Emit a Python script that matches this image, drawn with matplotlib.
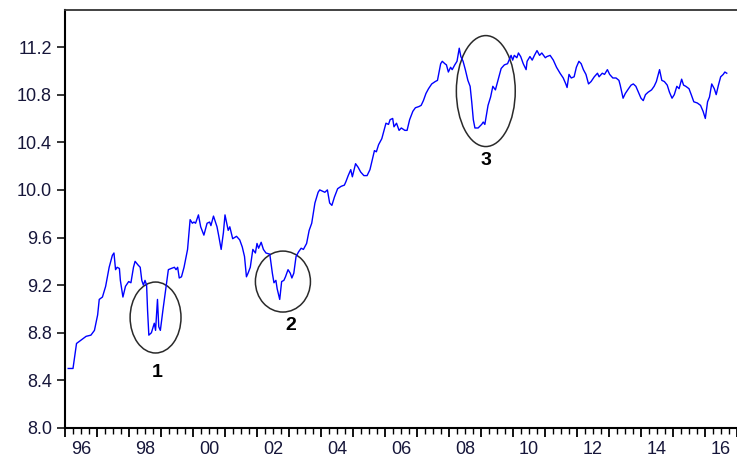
import matplotlib
matplotlib.use("Agg")
import matplotlib.pyplot as plt
from matplotlib.patches import Ellipse
import numpy as np

# Series: decimal year, log level
t_years = [
    1996.10, 1996.25, 1996.36, 1996.51, 1996.66, 1996.81, 1996.92, 1997.02, 1997.07, 1997.17,
    1997.27, 1997.38, 1997.48, 1997.53, 1997.58, 1997.63, 1997.70, 1997.73, 1997.81, 1997.89,
    1997.99, 1998.06, 1998.14, 1998.19, 1998.28, 1998.35, 1998.40, 1998.45, 1998.50, 1998.55,
    1998.58, 1998.62, 1998.70, 1998.79, 1998.83, 1998.89, 1998.93, 1998.98, 1999.06, 1999.16,
    1999.23, 1999.32, 1999.42, 1999.47, 1999.52, 1999.57, 1999.64, 1999.72, 1999.83, 1999.91,
    1999.98, 2000.03, 2000.08, 2000.17, 2000.24, 2000.34, 2000.44, 2000.52, 2000.56, 2000.64,
    2000.75, 2000.80, 2000.88, 2000.95, 2001.00, 2001.10, 2001.15, 2001.24, 2001.36, 2001.46,
    2001.54, 2001.61, 2001.67, 2001.72, 2001.79, 2001.87, 2001.95, 2002.00, 2002.05, 2002.13,
    2002.20, 2002.28, 2002.40, 2002.48, 2002.53, 2002.59, 2002.63, 2002.71, 2002.77, 2002.84,
    2002.89, 2002.97, 2003.04, 2003.09, 2003.15, 2003.22, 2003.30, 2003.38, 2003.45, 2003.55,
    2003.63, 2003.71, 2003.81, 2003.91, 2003.96, 2004.12, 2004.20, 2004.27, 2004.34, 2004.42,
    2004.52, 2004.63, 2004.73, 2004.78, 2004.85, 2004.93, 2004.98, 2005.08, 2005.16, 2005.24,
    2005.34, 2005.44, 2005.53, 2005.60, 2005.67, 2005.73, 2005.80, 2005.90, 2005.97, 2006.03,
    2006.11, 2006.16, 2006.24, 2006.28, 2006.36, 2006.44, 2006.51, 2006.62, 2006.69, 2006.77,
    2006.87, 2006.95, 2007.06, 2007.13, 2007.20, 2007.28, 2007.36, 2007.46, 2007.57, 2007.64,
    2007.69, 2007.74, 2007.79, 2007.87, 2007.92, 2007.98, 2008.05, 2008.10, 2008.18, 2008.25,
    2008.32, 2008.37, 2008.44, 2008.51, 2008.59, 2008.66, 2008.71, 2008.76, 2008.81, 2008.91,
    2009.02, 2009.07, 2009.12, 2009.17, 2009.22, 2009.30, 2009.37, 2009.45, 2009.53, 2009.63,
    2009.73, 2009.83, 2009.94, 2009.99, 2010.04, 2010.12, 2010.17, 2010.24, 2010.32, 2010.41,
    2010.44, 2010.53, 2010.60, 2010.67, 2010.75, 2010.83, 2010.90, 2011.01, 2011.06, 2011.16,
    2011.26, 2011.36, 2011.47, 2011.57, 2011.65, 2011.69, 2011.75, 2011.82, 2011.91, 2011.98,
    2012.06, 2012.13, 2012.20, 2012.28, 2012.36, 2012.44, 2012.54, 2012.64, 2012.69, 2012.79,
    2012.86, 2012.95, 2013.02, 2013.12, 2013.22, 2013.31, 2013.35, 2013.44, 2013.51, 2013.61,
    2013.69, 2013.76, 2013.84, 2013.92, 2014.00, 2014.07, 2014.14, 2014.22, 2014.33, 2014.41,
    2014.48, 2014.58, 2014.65, 2014.73, 2014.82, 2014.89, 2014.97, 2015.04, 2015.12, 2015.19,
    2015.27, 2015.33, 2015.40, 2015.50, 2015.57, 2015.65, 2015.76, 2015.86, 2015.94, 2016.01,
    2016.08, 2016.14, 2016.21, 2016.29, 2016.35, 2016.42, 2016.49, 2016.57, 2016.62, 2016.68,
]
level = [
    8.50, 8.50, 8.71, 8.74, 8.77, 8.78, 8.82, 8.95, 9.08, 9.10,
    9.19, 9.35, 9.45, 9.47, 9.33, 9.35, 9.34, 9.24, 9.10, 9.19,
    9.23, 9.22, 9.35, 9.40, 9.37, 9.35, 9.24, 9.20, 9.24, 9.20,
    8.99, 8.78, 8.80, 8.88, 8.82, 9.08, 8.85, 8.82, 8.99, 9.19,
    9.33, 9.34, 9.35, 9.33, 9.35, 9.26, 9.27, 9.35, 9.50, 9.75,
    9.72, 9.73, 9.72, 9.79, 9.69, 9.62, 9.72, 9.73, 9.70, 9.78,
    9.69, 9.62, 9.50, 9.64, 9.79, 9.66, 9.69, 9.59, 9.61, 9.58,
    9.52, 9.44, 9.27, 9.30, 9.35, 9.50, 9.47, 9.55, 9.51, 9.56,
    9.50, 9.47, 9.46, 9.30, 9.22, 9.24, 9.17, 9.08, 9.23, 9.24,
    9.27, 9.33, 9.30, 9.26, 9.30, 9.44, 9.48, 9.51, 9.50, 9.55,
    9.66, 9.72, 9.89, 9.98, 10.00, 9.98, 10.00, 9.89, 9.87, 9.94,
    10.01, 10.03, 10.04, 10.07, 10.12, 10.17, 10.11, 10.22, 10.19, 10.15,
    10.12, 10.12, 10.17, 10.25, 10.33, 10.32, 10.38, 10.43, 10.50, 10.56,
    10.55, 10.59, 10.60, 10.53, 10.56, 10.50, 10.52, 10.50, 10.50, 10.59,
    10.66, 10.69, 10.70, 10.71, 10.75, 10.81, 10.85, 10.89, 10.91, 10.92,
    10.99, 11.06, 11.08, 11.06, 11.05, 10.99, 11.03, 11.01, 11.05, 11.08,
    11.19, 11.12, 11.08, 11.01, 10.92, 10.87, 10.74, 10.59, 10.52, 10.52,
    10.55, 10.57, 10.55, 10.63, 10.71, 10.78, 10.87, 10.84, 10.92, 11.02,
    11.05, 11.06, 11.13, 11.09, 11.13, 11.11, 11.15, 11.12, 11.06, 11.01,
    11.08, 11.12, 11.09, 11.13, 11.17, 11.13, 11.15, 11.11, 11.12, 11.13,
    11.09, 11.03, 10.98, 10.94, 10.89, 10.86, 10.97, 10.94, 10.95, 11.03,
    11.08, 11.06, 11.01, 10.97, 10.89, 10.91, 10.95, 10.98, 10.95, 10.98,
    10.97, 11.01, 10.97, 10.94, 10.94, 10.92, 10.88, 10.77, 10.81, 10.85,
    10.88, 10.89, 10.87, 10.82, 10.77, 10.75, 10.80, 10.82, 10.84, 10.87,
    10.91, 11.01, 10.92, 10.91, 10.88, 10.82, 10.77, 10.80, 10.87, 10.85,
    10.93, 10.88, 10.87, 10.85, 10.80, 10.74, 10.73, 10.71, 10.66, 10.60,
    10.74, 10.78, 10.89, 10.85, 10.80, 10.88, 10.95, 10.97, 10.99, 10.98,
]

y_ticks = [8.0, 8.4, 8.8, 9.2, 9.6, 10.0, 10.4, 10.8, 11.2]
x_label_years = [1996, 1998, 2000, 2002, 2004, 2006, 2008, 2010, 2012, 2014, 2016]
x_labels = ["96", "98", "00", "02", "04", "06", "08", "10", "12", "14", "16"]

# Highlighted episodes: centre (year, level), width (years), height (level), label
episode_names = ["1", "2", "3"]
episode_centre_t = [1998.83, 2002.81, 2009.15]
episode_centre_v = [8.928, 9.230, 10.830]
episode_width = [1.59, 1.72, 1.84]
episode_height = [0.596, 0.512, 0.932]
episode_label_t = [1998.89, 2003.05, 2009.14]
episode_label_v = [8.462, 8.865, 10.251]

W, H = 737, 463
fig = plt.figure(figsize=(W / 100, H / 100), dpi=100)
ax = fig.add_axes([65 / W, 35 / H, 672 / W, 418 / H])

ax.plot(t_years, level, color="#0000ff", lw=1.0)

ax.set_xlim(1996.10, 2016.68)
ax.set_ylim(8.0, 11.511)

text_color = "#16163a"
tick_font = dict(family="Liberation Sans", size=13)

ax.set_yticks(y_ticks)
ax.set_yticklabels([f"{v:.1f}" for v in y_ticks], color=text_color, **tick_font)
ax.tick_params(axis="y", direction="out", length=6, width=1.1, pad=3.5, colors="black",
               labelcolor=text_color)

year_starts = np.arange(1996, 2018)
quarters = np.arange(1996, 2017.01, 0.25)
ax.set_xticks(year_starts)
ax.set_xticklabels([])
ax.set_xticks(quarters, minor=True)
ax.tick_params(axis="x", which="major", direction="out", length=6.5, width=1.3)
ax.tick_params(axis="x", which="minor", direction="out", length=4, width=1.0)

for yr, lab in zip(x_label_years, x_labels):
    ax.annotate(lab, xy=(yr + 0.5, 0), xycoords=("data", "axes fraction"),
                xytext=(0, -13), textcoords="offset pixels",
                ha="center", va="top", color=text_color, **tick_font)

for side in ["left", "bottom"]:
    ax.spines[side].set_linewidth(1.5)
    ax.spines[side].set_color("black")
ax.spines["top"].set_linewidth(1.3)
ax.spines["top"].set_color("#333333")
ax.spines["right"].set_visible(False)

for name, ct, cv, w, h, lt, lv in zip(episode_names, episode_centre_t, episode_centre_v,
                                      episode_width, episode_height,
                                      episode_label_t, episode_label_v):
    ax.add_patch(Ellipse((ct, cv), w, h, fill=False, edgecolor="#2a2a2a", lw=1.1))
    ax.text(lt, lv, name, ha="center", va="center", fontsize=14, fontweight="bold",
            family="Liberation Sans", color="black")

fig.savefig("out.png", dpi=100)
